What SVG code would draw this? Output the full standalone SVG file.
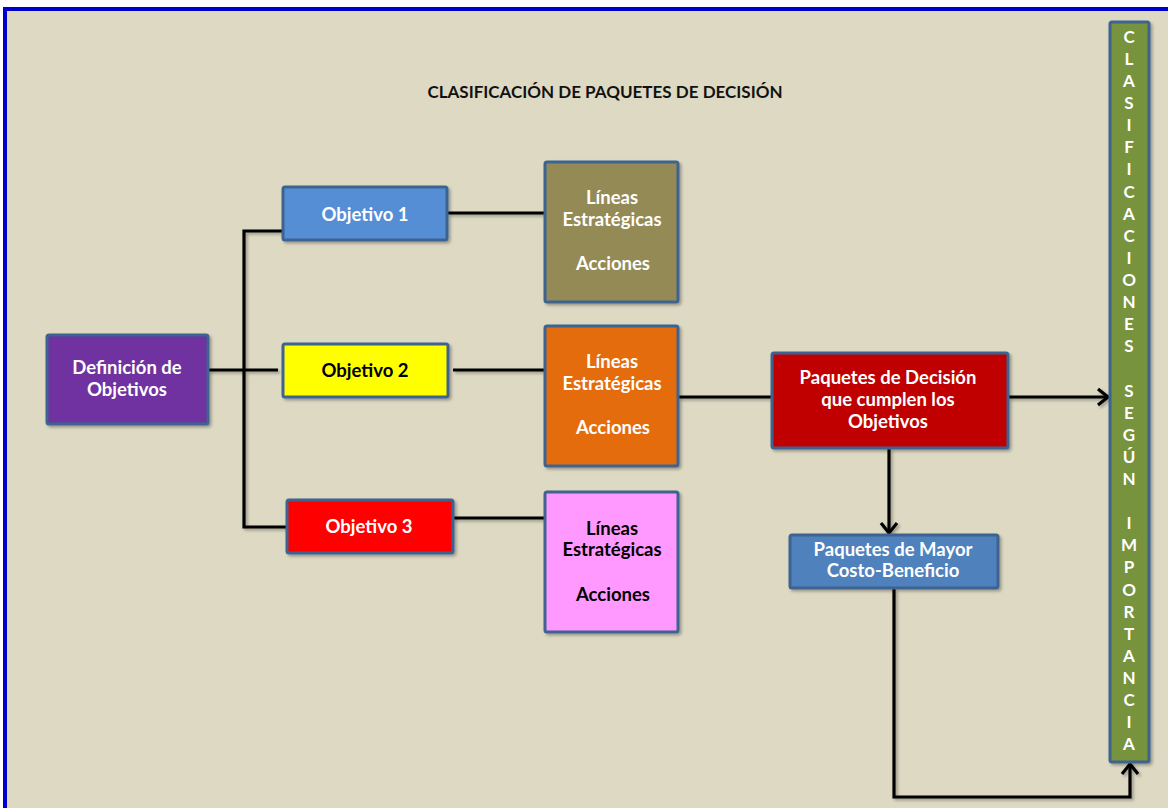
<svg xmlns="http://www.w3.org/2000/svg" width="1168" height="808" viewBox="0 0 1168 808">
<defs>
<filter id="sh" x="-10%" y="-10%" width="130%" height="130%">
<feDropShadow dx="2" dy="2" stdDeviation="1.5" flood-color="#000" flood-opacity="0.3"/>
</filter>
<filter id="lsh" filterUnits="userSpaceOnUse" x="0" y="0" width="1168" height="808">
<feDropShadow dx="2" dy="2" stdDeviation="1.5" flood-color="#000" flood-opacity="0.3"/>
</filter>
<marker id="arr" markerWidth="20" markerHeight="20" viewBox="-12 -10 14 20" refX="0" refY="0" orient="auto" markerUnits="userSpaceOnUse">
<path d="M-10,-8 L0,0 L-10,8" fill="none" stroke="#000" stroke-width="3.2"/>
</marker>
<style>
.n{stroke:#3E6390;stroke-width:3;filter:url(#sh)}
.t{font-family:Lato,"Liberation Sans",sans-serif;font-weight:bold;font-size:18.5px;fill:#fff;text-anchor:middle}
.k{fill:#000}
.c{fill:none;stroke:#000;stroke-width:3.2}
.v{font-family:Lato,"Liberation Sans",sans-serif;font-weight:bold;font-size:17px;fill:#fff;text-anchor:middle}
</style>
</defs>
<rect x="0" y="0" width="1168" height="808" fill="#fff"/>
<rect x="5" y="9" width="1200" height="900" fill="#DDD9C3" stroke="#0000CC" stroke-width="4"/>
<text x="605" y="98" font-family="Lato,'Liberation Sans',sans-serif" font-weight="bold" font-size="17" fill="#111" text-anchor="middle">CLASIFICACIÓN DE PAQUETES DE DECISIÓN</text>

<g id="connectors" filter="url(#lsh)">
<path class="c" d="M208,370 H278"/>
<path class="c" d="M283,231 H244 V527 H287"/>
<path class="c" d="M448,213 H545"/>
<path class="c" d="M453,370 H545"/>
<path class="c" d="M453,518 H545"/>
<path class="c" d="M678,397 H772"/>
<path class="c" d="M1008,397 H1108" marker-end="url(#arr)"/>
<path class="c" d="M889,449 V533" marker-end="url(#arr)"/>
<path class="c" d="M894,589 V797 H1130 V764" marker-end="url(#arr)"/>
</g>

<g id="definicion">
<rect class="n" x="47" y="335" width="161" height="89" rx="2" fill="#7030A0"/>
<text class="t" x="127" y="374">Definición de</text>
<text class="t" x="127" y="396">Objetivos</text>
</g>
<g id="objetivo1">
<rect class="n" x="283" y="187" width="164" height="53" rx="2" fill="#558ED5"/>
<text class="t" x="365" y="221">Objetivo 1</text>
</g>
<g id="objetivo2">
<rect class="n" x="283" y="344" width="165" height="53" rx="2" fill="#FFFF00"/>
<text class="t k" x="365" y="377">Objetivo 2</text>
</g>
<g id="objetivo3">
<rect class="n" x="287" y="500" width="166" height="53" rx="2" fill="#FF0000"/>
<text class="t" x="369" y="533">Objetivo 3</text>
</g>
<g id="lineas1">
<rect class="n" x="545" y="162" width="133" height="140" rx="2" fill="#948A54"/>
<text class="t" x="612" y="204">Líneas</text>
<text class="t" x="612" y="226">Estratégicas</text>
<text class="t" x="613" y="270">Acciones</text>
</g>
<g id="lineas2">
<rect class="n" x="545" y="326" width="133" height="140" rx="2" fill="#E46C0A"/>
<text class="t" x="612" y="368">Líneas</text>
<text class="t" x="612" y="390">Estratégicas</text>
<text class="t" x="613" y="434">Acciones</text>
</g>
<g id="lineas3">
<rect class="n" x="545" y="492" width="133" height="140" rx="2" fill="#FF99FF"/>
<text class="t k" x="612" y="535">Líneas</text>
<text class="t k" x="612" y="556">Estratégicas</text>
<text class="t k" x="613" y="601">Acciones</text>
</g>
<g id="paquetes">
<rect class="n" x="772" y="353" width="236" height="95" rx="2" fill="#C00000"/>
<text class="t" x="888" y="384">Paquetes de Decisión</text>
<text class="t" x="888" y="406">que cumplen los</text>
<text class="t" x="888" y="428">Objetivos</text>
</g>
<g id="mayor">
<rect class="n" x="790" y="535" width="208" height="53" rx="2" fill="#4F81BD"/>
<text class="t" x="893" y="556">Paquetes de Mayor</text>
<text class="t" x="893" y="577">Costo-Beneficio</text>
</g>
<g id="clasificaciones">
<rect class="n" x="1110" y="22" width="39" height="740" rx="2" fill="#77933C"/>
<text class="v" x="1129" y="43">C</text>
<text class="v" x="1129" y="65">L</text>
<text class="v" x="1129" y="87">A</text>
<text class="v" x="1129" y="109">S</text>
<text class="v" x="1129" y="131">I</text>
<text class="v" x="1129" y="153">F</text>
<text class="v" x="1129" y="175">I</text>
<text class="v" x="1129" y="198">C</text>
<text class="v" x="1129" y="220">A</text>
<text class="v" x="1129" y="242">C</text>
<text class="v" x="1129" y="264">I</text>
<text class="v" x="1129" y="286">O</text>
<text class="v" x="1129" y="308">N</text>
<text class="v" x="1129" y="330">E</text>
<text class="v" x="1129" y="352">S</text>
<text class="v" x="1129" y="397">S</text>
<text class="v" x="1129" y="419">E</text>
<text class="v" x="1129" y="441">G</text>
<text class="v" x="1129" y="463">Ú</text>
<text class="v" x="1129" y="485">N</text>
<text class="v" x="1129" y="529">I</text>
<text class="v" x="1129" y="551">M</text>
<text class="v" x="1129" y="573">P</text>
<text class="v" x="1129" y="596">O</text>
<text class="v" x="1129" y="618">R</text>
<text class="v" x="1129" y="640">T</text>
<text class="v" x="1129" y="662">A</text>
<text class="v" x="1129" y="684">N</text>
<text class="v" x="1129" y="706">C</text>
<text class="v" x="1129" y="728">I</text>
<text class="v" x="1129" y="750">A</text>
</g>
</svg>
